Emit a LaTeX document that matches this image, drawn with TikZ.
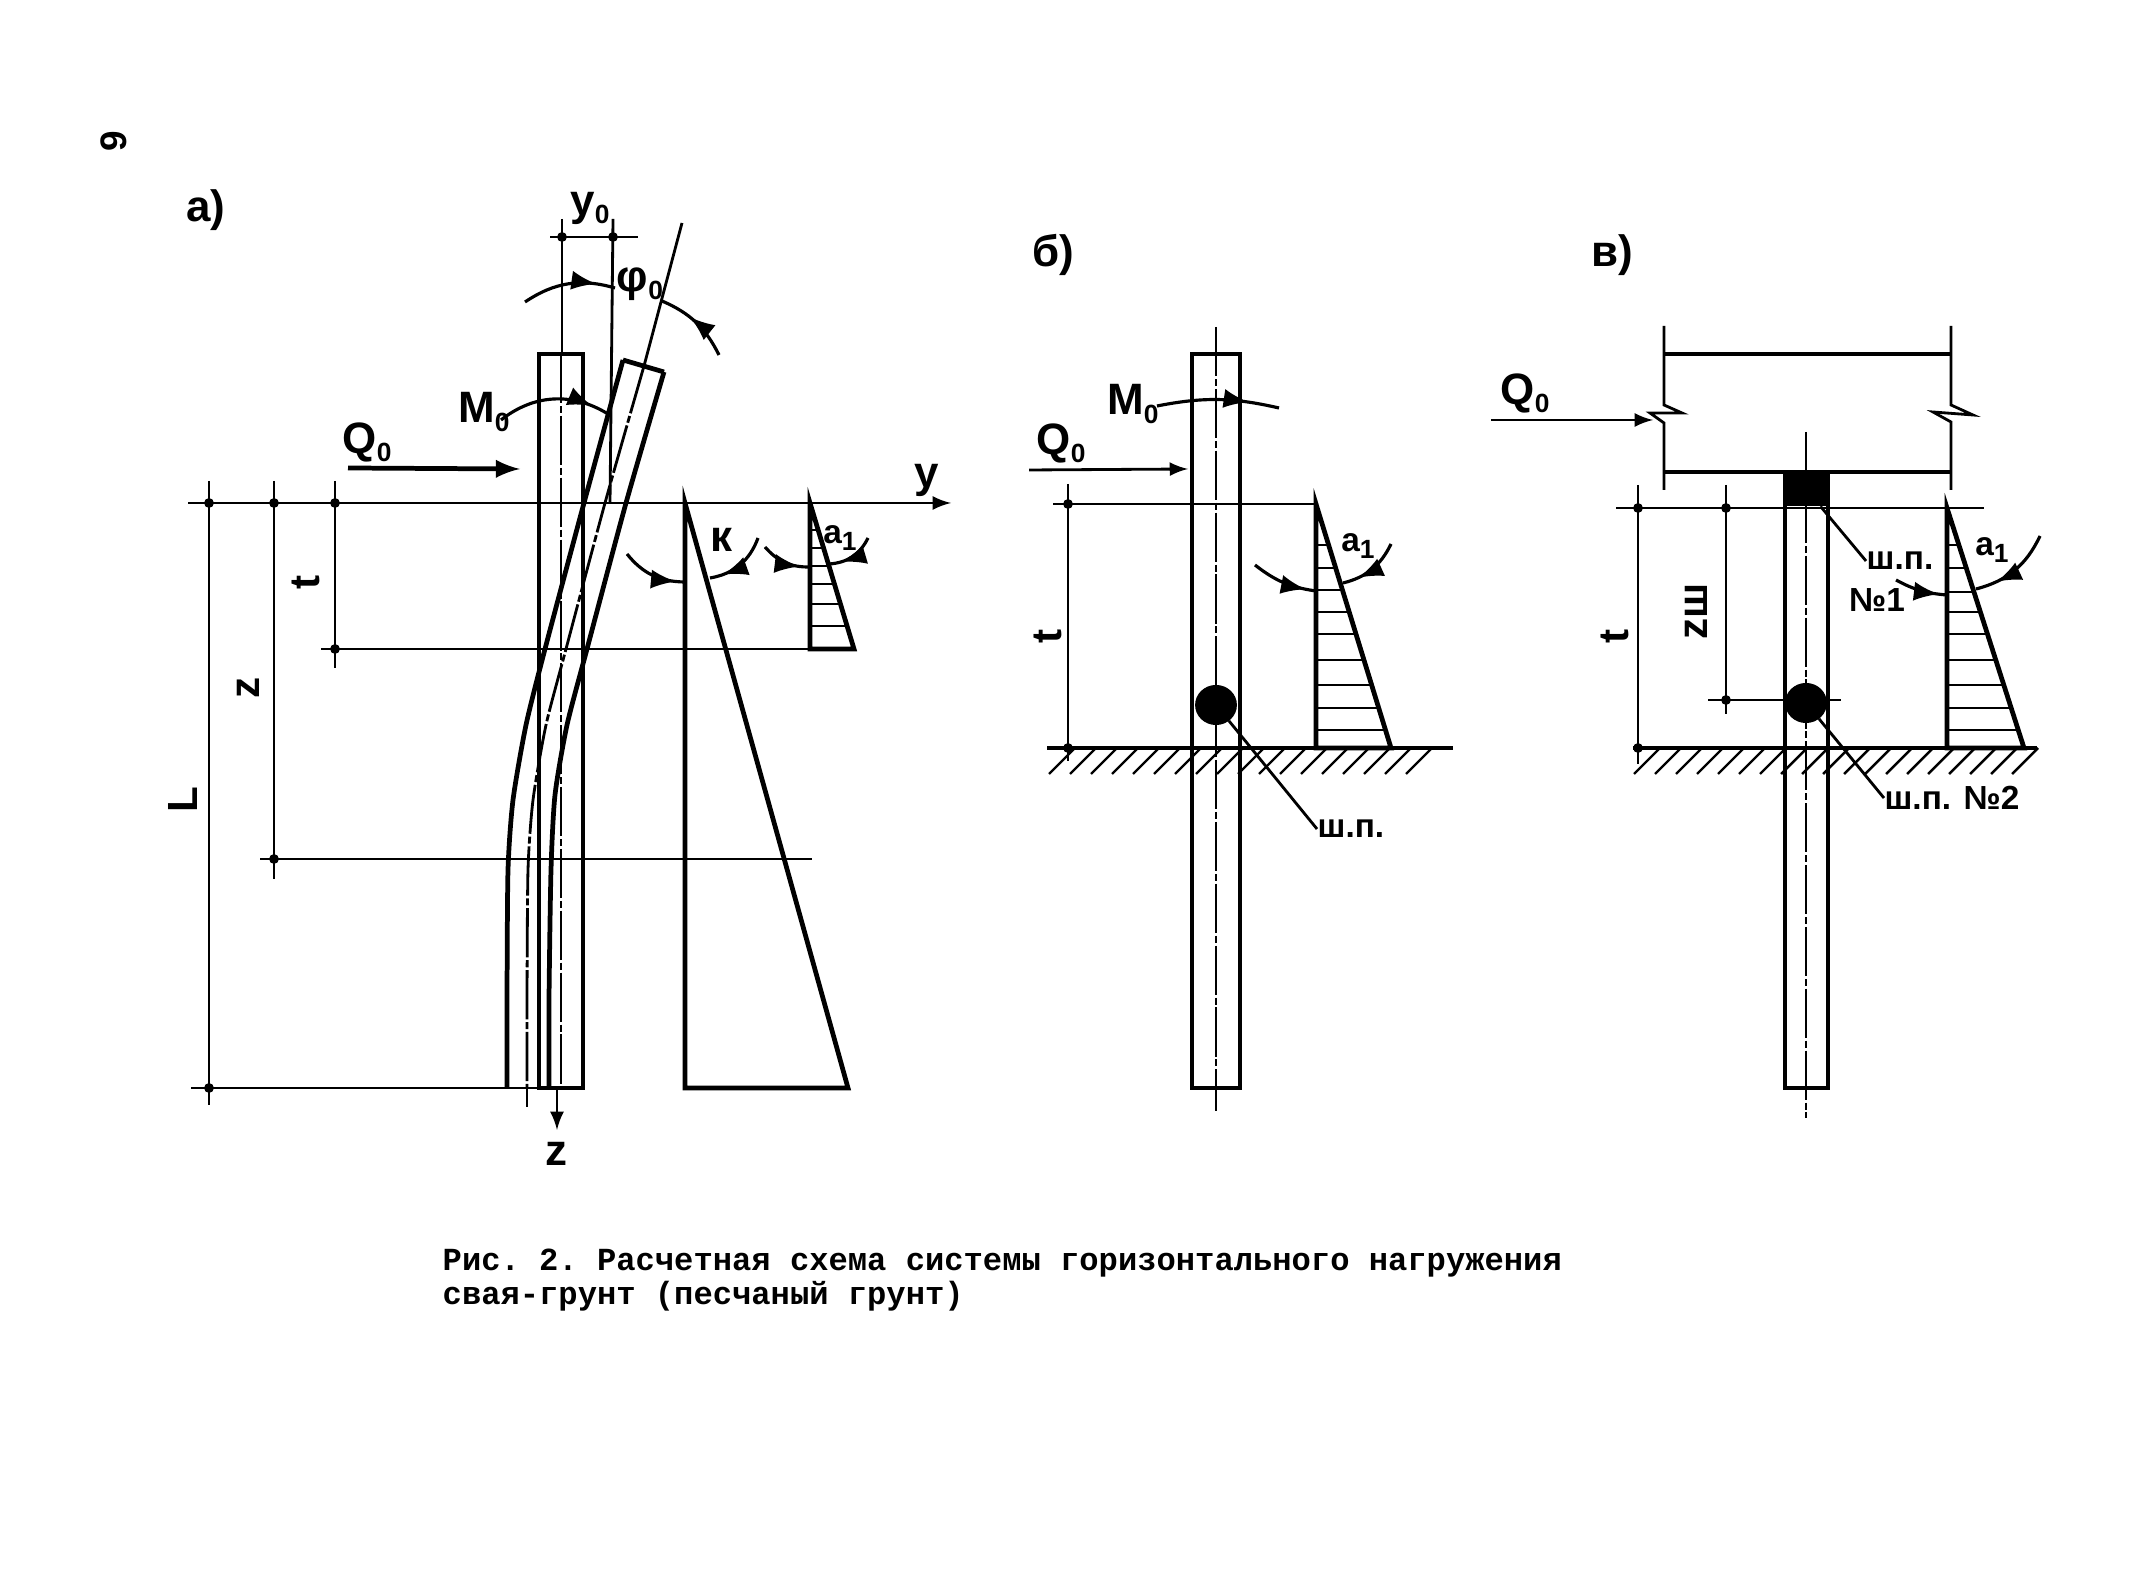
\documentclass[tikz,border=0pt]{standalone}
\usepackage{fontspec}
\setmainfont{Liberation Sans}
\newfontfamily\capfont{Liberation Mono}
\usetikzlibrary{arrows, decorations.markings, shapes.geometric, positioning}
\tikzset{>=latex,
    pilewall/.style={line width=1.35pt},
    groundline/.style={line width=1.1pt},
    thinline/.style={line width=.8pt},
    axisline/.style={line width=.8pt, dash pattern=on 14pt off .8pt on 2pt off .8pt},
    hatchline/.style={line width=.7pt},
    curvearrow/.style={line width=.9pt, postaction={decorate, decoration={markings, mark=at position #1 with {\arrow[scale=1.3]{latex}}}}},
    biglabel/.style={font=\bfseries\fontsize{12.5}{12.5}\selectfont, inner sep=0pt},
    dimlabel/.style={font=\bfseries\fontsize{12}{12}\selectfont, inner sep=0pt, rotate=90},
    smalllabel/.style={font=\bfseries\fontsize{9.5}{9.5}\selectfont, inner sep=0pt},
    hingeball/.style={draw, fill=black, ellipse, minimum width=11.5pt, minimum height=11pt, inner sep=0pt}
}
\newcommand{\subz}[2]{#1\raisebox{-.35ex}{\fontsize{7.5}{7.5}\selectfont #2}}
\begin{document}
\begin{tikzpicture}[x=.1mm,y=-.1mm]
\useasboundingbox (0,0) rectangle (2151,1576);

% page number and panel letters
\node[font=\bfseries\fontsize{10.5}{10.5}\selectfont, inner sep=0pt, rotate=90] (pagenum) at (114,141) {9};
\node[biglabel] (panela) at (206,210) {а)};
\node[biglabel] (panelb) at (1053,255) {б)};
\node[biglabel] (panelc) at (1612,255) {в)};

% panel a: dimension lines
\draw[thinline, ->] (188,503) -- (951,503);
\draw[thinline] (209,481) -- (209,1105);
\draw[thinline] (274,481) -- (274,879);
\draw[thinline] (335,481) -- (335,668);
\draw[thinline] (321,649) -- (854,649);
\draw[thinline] (260,859) -- (812,859);
\draw[thinline] (191,1088) -- (549,1088);
\draw[thinline] (550,237) -- (638,237);
\draw[thinline] (562,219) -- (562,354);
\draw[thinline] (613,219) -- (610,503);
\draw[thinline] (527,1088) -- (527,1107);
\foreach \p in {(209,503),(274,503),(335,503),(335,649),(274,859),(209,1088),(562,237),(613,237)}
    \fill \p circle (1.4pt);

% panel a: straight pile
\draw[pilewall] (539,1088) -- (539,354) -- (583,354) -- (583,1088) -- cycle;
\draw[axisline] (561,354) -- (561,1088);
\draw[thinline, ->] (557,1088) -- (557,1130);

% panel a: deflected pile
\draw[pilewall] (623,360) -- (664,372);
\draw[pilewall] plot[smooth, tension=.4] coordinates {(623,360) (584,503) (545,649) (526,725) (513,800) (508,870) (507,1000) (507,1088)};
\draw[pilewall] plot[smooth, tension=.4] coordinates {(664,372) (626,503) (587,649) (567,725) (555,795) (551,870) (549,1000) (549,1088)};
\draw[axisline] plot[smooth, tension=.4] coordinates {(644,366) (605,503) (566,649) (546,725) (533,800) (528,870) (527,1000) (527,1088)};
\draw[thinline] (682,223) -- (644,366);

% panel a: soil diagrams
\draw[pilewall] (685,503) -- (685,1088) -- (848,1088) -- cycle;
\draw[pilewall] (810,503) -- (810,649) -- (854,649) -- cycle;
\foreach \yy [evaluate=\yy as \xx using 810+(\yy-503)*.30] in {530,548,566,584,604,626}
    \draw[hatchline] (810,\yy) -- (\xx,\yy);

% panel a: moments and forces
\draw[curvearrow=.8] (525,302) to [bend left=25] (615,288);
\draw[curvearrow=.6] (719,355) to [bend right=20] (662,301);
\draw[curvearrow=.85] (501,420) to [bend left=35] (608,414);
\draw[curvearrow=.88] (627,554) to [bend right=25] (684,582);
\draw[curvearrow=.8] (758,538) to [bend left=30] (710,578);
\draw[curvearrow=.8] (765,547) to [bend right=25] (810,567);
\draw[curvearrow=.75] (868,538) to [bend left=30] (829,564);
\draw[pilewall, ->] (348,468) -- (520,469);

% panel a: labels
\node[biglabel] (ya) at (590,208) {\subz{y}{0}};
\node[biglabel] (phia) at (640,284) {\subz{φ}{0}};
\node[biglabel] (ma) at (484,412) {\subz{M}{0}};
\node[biglabel] (qa) at (367,442) {\subz{Q}{0}};
\node[biglabel] (yaxis) at (927,480) {y};
\node[biglabel] (ka) at (721,540) {к};
\node[smalllabel] (aa) at (840,538) {\subz{а}{1}};
\node[dimlabel] (ta) at (306,582) {t};
\node[dimlabel] (za) at (248,688) {z};
\node[dimlabel] (la) at (183,800) {L};
\node[biglabel] (zaxis) at (556,1154) {z};

% panel b: pile and soil
\draw[pilewall] (1192,354) rectangle (1240,1088);
\draw[axisline] (1216,327) -- (1216,1111);
\draw[thinline] (1053,504) -- (1316,504);
\draw[groundline] (1047,748) -- (1453,748);
\foreach \xx in {1075,1096,...,1450}
    \draw[hatchline] (\xx,748) -- (\xx-26,774);
\draw[thinline] (1068,484) -- (1068,761);
\foreach \p in {(1068,504),(1068,748)}
    \fill \p circle (1.4pt);

% panel b: diagram
\draw[pilewall] (1316,504) -- (1316,748) -- (1391,748) -- cycle;
\foreach \yy [evaluate=\yy as \xx using 1316+(\yy-504)*.307] in {545,568,590,612,634,660,685,708,730}
    \draw[hatchline] (1316,\yy) -- (\xx,\yy);

% panel b: hinge and labels
\node[hingeball] (hingeb) at (1216,705) {};
\node[smalllabel] (shpb) at (1351,829) {ш.п.};
\draw[thinline] (hingeb) -- (shpb.west);
\draw[curvearrow=.75] (1157,406) to [bend left=12] (1279,408);
\draw[curvearrow=.85] (1255,565) to [bend right=15] (1316,591);
\draw[curvearrow=.75] (1391,544) to [bend left=25] (1343,583);
\draw[thinline, ->] (1029,470) -- (1188,469);
\node[biglabel] (mb) at (1133,404) {\subz{M}{0}};
\node[biglabel] (qb) at (1061,443) {\subz{Q}{0}};
\node[smalllabel] (ab) at (1358,546) {\subz{а}{1}};
\node[dimlabel] (tb) at (1048,636) {t};

% panel c: slab with breaks
\draw[thinline] (1664,326) -- (1664,405) -- (1682,413) -- (1650,413) -- (1664,423) -- (1664,490);
\draw[thinline] (1951,326) -- (1951,405) -- (1973,415) -- (1933,412) -- (1951,422) -- (1951,490);
\draw[pilewall] (1664,354) -- (1951,354);
\draw[pilewall] (1664,472) -- (1951,472);

% panel c: pile and soil
\draw[pilewall] (1785,472) -- (1785,1088) -- (1828,1088) -- (1828,472);
\draw[axisline] (1806,432) -- (1806,1118);
\draw[thinline] (1616,508) -- (1984,508);
\draw[groundline] (1633,748) -- (2037,748);
\foreach \xx in {1660,1681,...,2040}
    \draw[hatchline] (\xx,748) -- (\xx-26,774);
\draw[thinline] (1638,485) -- (1638,764);
\draw[thinline] (1726,485) -- (1726,714);
\draw[thinline] (1708,700) -- (1841,700);
\foreach \p in {(1638,508),(1638,748),(1726,508),(1726,700)}
    \fill \p circle (1.4pt);

% panel c: diagram
\draw[pilewall] (1947,508) -- (1947,748) -- (2024,748) -- cycle;
\foreach \yy [evaluate=\yy as \xx using 1947+(\yy-508)*.32] in {545,568,592,612,634,660,685,708,730}
    \draw[hatchline] (1947,\yy) -- (\xx,\yy);

% panel c: hinges and labels
\node[draw, fill=black, minimum width=11.5pt, minimum height=9.5pt, inner sep=0pt] (hingec) at (1806,489) {};
\node[hingeball] (hinged) at (1806,703) {};
\node[smalllabel] (shpc) at (1900,561) {ш.п.};
\node[smalllabel] (noc) at (1877,600) {№1};
\node[smalllabel] (shpd) at (1952,798) {ш.п. №2};
\draw[thinline] (hingec) -- (shpc.west);
\draw[thinline] (hinged) -- (shpd.west);
\draw[curvearrow=.85] (1896,580) to [bend right=12] (1947,595);
\draw[curvearrow=.75] (2040,536) to [bend left=25] (1976,589);
\draw[thinline, ->] (1491,420) -- (1653,420);
\node[biglabel] (qc) at (1525,393) {\subz{Q}{0}};
\node[smalllabel] (ac) at (1992,550) {\subz{а}{1}};
\node[dimlabel] (tc) at (1615,636) {t};
\node[dimlabel] (zc) at (1696,611) {zш};

% caption
\node[font=\capfont\bfseries\fontsize{9.15}{9.8}\selectfont, align=left, anchor=north west, inner sep=0pt] (caption) at (442,1248)
    {\frenchspacing Рис. 2. Расчетная схема системы горизонтального нагружения\\свая-грунт (песчаный грунт)};
\end{tikzpicture}
\end{document}
